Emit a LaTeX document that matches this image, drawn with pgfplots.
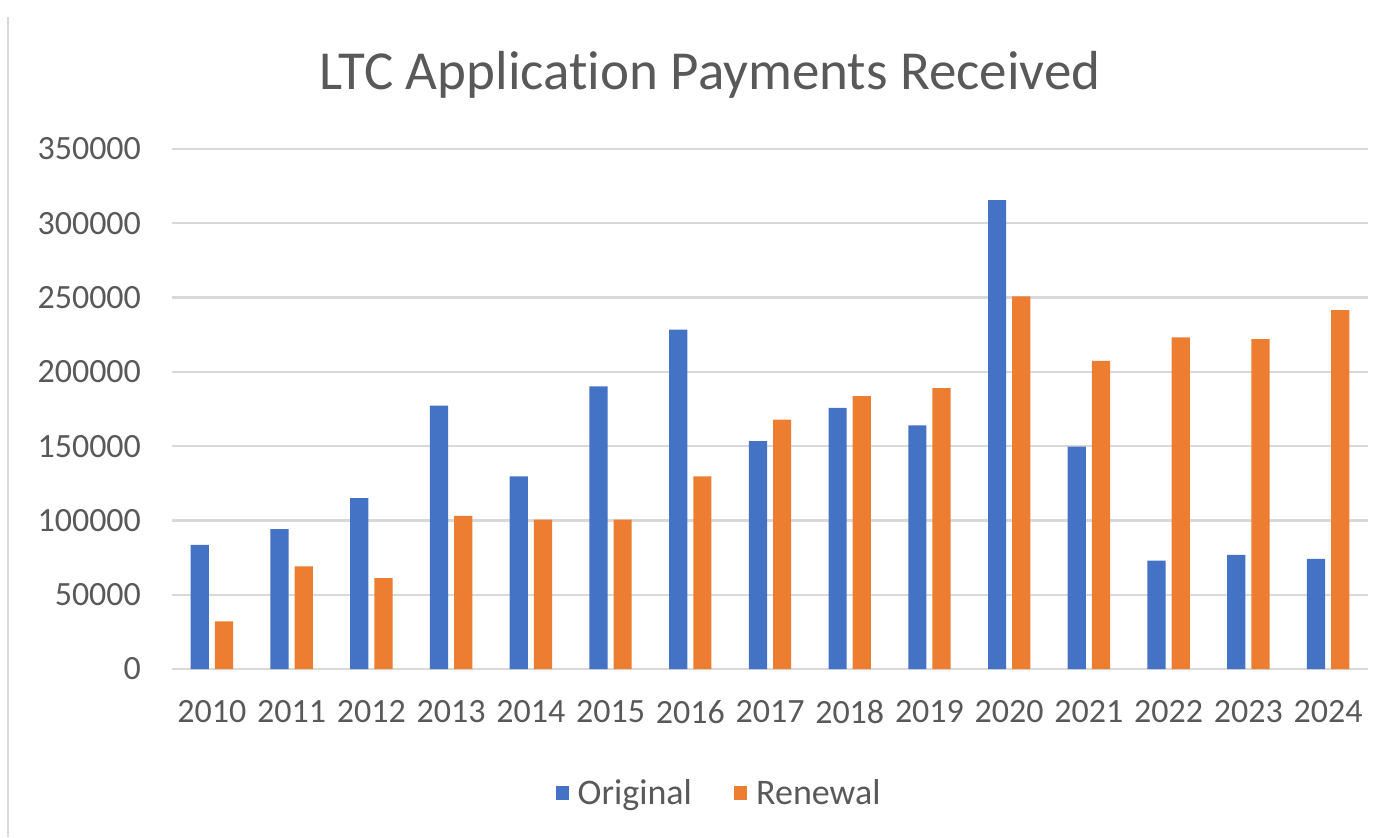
\documentclass[border=0pt]{standalone}
\usepackage{pgfplots}
\pgfplotsset{compat=1.18}
\usepackage{fontspec}
\setmainfont{Carlito}[Ligatures=NoCommon]
\definecolor{cblue}{HTML}{4472C4}
\definecolor{corange}{HTML}{ED7D31}
\definecolor{gridgray}{HTML}{D9D9D9}
\definecolor{textgray}{HTML}{595959}
\begin{document}
\begin{tikzpicture}
\useasboundingbox (-86pt,-84pt) rectangle (605pt,334.5pt);
\draw[gridgray, line width=0.8pt] (-82pt,-84pt) -- (-82pt,326pt);
\begin{axis}[
  at={(0,0)}, anchor=south west,
  scale only axis, width=598pt, height=260pt,
  xmin=-0.5, xmax=14.5, ymin=0, ymax=350000,
  ybar=3pt, bar width=9.1pt,
  xtick={0,...,14},
  xticklabels={2010,2011,2012,2013,2014,2015,2016,2017,2018,2019,2020,2021,2022,2023,2024},
  ytick={0,50000,...,350000},
  scaled y ticks=false,
  /pgf/number format/assume math mode=true,
  /pgf/number format/fixed,
  /pgf/number format/1000 sep={},
  ticklabel style={font=\fontsize{17}{20}\selectfont, text=textgray},
  major tick length=0pt,
  ymajorgrids, major grid style={draw=gridgray, line width=1.2pt},
  axis line style={draw=none},
  yticklabel style={xshift=-12pt},
  xticklabel style={yshift=-12pt},
  legend style={at={(274pt,-62pt)}, anchor=center, draw=none, fill=none,
    legend columns=2, font=\fontsize{18}{21}\selectfont, text=textgray,
    /tikz/every odd column/.append style={column sep=2.5pt},
    /tikz/every even column/.append style={column sep=19pt}},
  legend image code/.code={\fill[#1] (0pt,-3.3pt) rectangle (6.6pt,3.3pt);},
  clip=false,
]
\addplot[fill=cblue, draw=none] coordinates {
(0,83600) (1,94100) (2,115000) (3,177200) (4,129600) (5,190200) (6,228500)
(7,153300) (8,175800) (9,164000) (10,315600) (11,149600) (12,72900) (13,76900) (14,74100)};
\addplot[fill=corange, draw=none] coordinates {
(0,32000) (1,69000) (2,61100) (3,103100) (4,100600) (5,100600) (6,129600)
(7,167900) (8,183700) (9,189000) (10,250800) (11,207400) (12,223200) (13,222000) (14,241500)};
\legend{Original,Renewal}
\end{axis}
\node[text=textgray, font=\fontsize{27.5}{32}\selectfont] at (269pt,297pt) {LTC Application Payments Received};
\end{tikzpicture}
\end{document}
